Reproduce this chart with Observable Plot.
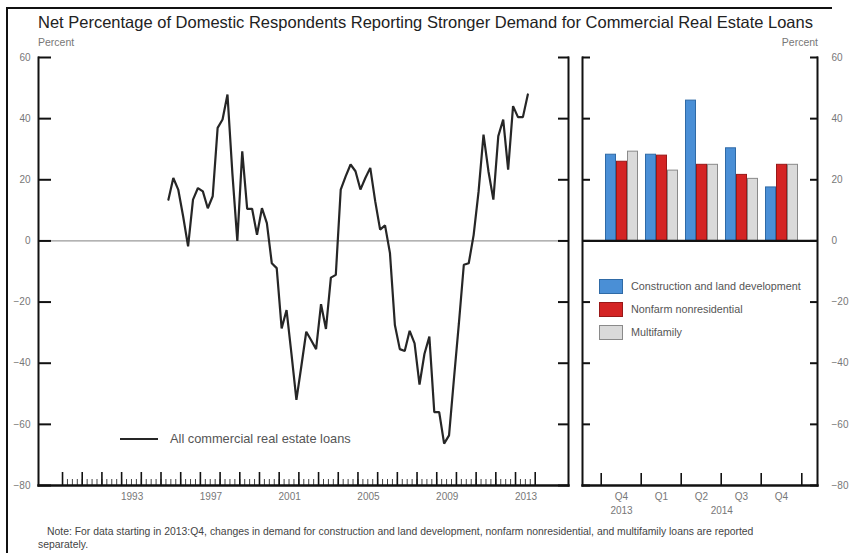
<!DOCTYPE html>
<html><head><meta charset="utf-8">
<script src="https://cdn.jsdelivr.net/npm/d3@7"></script>
<script src="https://cdn.jsdelivr.net/npm/@observablehq/plot@0.6"></script>
<style>
body{margin:0;background:#fff;}
#wrap{position:relative;width:849px;height:553px;overflow:hidden;font-family:"Liberation Sans",Arial,sans-serif;background:#fff;}
.abs{position:absolute;white-space:nowrap;}
.plot{position:absolute;top:0;}
</style></head><body><div id="wrap"></div>
<script>
// ---- data ----
const titleText = "Net Percentage of Domestic Respondents Reporting Stronger Demand for Commercial Real Estate Loans";
const noteLine1 = "Note: For data starting in 2013:Q4, changes in demand for construction and land development, nonfarm nonresidential, and multifamily loans are reported";
const noteLine2 = "separately.";
const lineLabel = "All commercial real estate loans";
const firstYear = 1995, firstQuarter = 2; // first observation 1995:Q2
const allCRE = [
  13.5, 20.6, 16.8,                 // 1995 Q2-Q4
  8, -1.8, 13.5, 17.3,              // 1996
  16.2, 10.7, 14.6, 37,             // 1997
  39.7, 47.9, 22, 0,                // 1998
  29.3, 10.5, 10.5, 2,              // 1999
  10.7, 5.8, -7.3, -8.9,            // 2000
  -28.6, -22.6, -37, -52,           // 2001
  -41, -29.7, -32.5, -35.4,         // 2002
  -20.7, -28.8, -12, -11.1,         // 2003
  16.8, 21.1, 25, 22.8,             // 2004
  16.8, 20.6, 23.9, 13,             // 2005
  3.7, 5.1, -4, -27.5,              // 2006
  -35.4, -36, -29.4, -33.5,         // 2007
  -47, -37, -31.3, -56,             // 2008
  -56, -66.3, -63.6, -45,           // 2009
  -27, -7.8, -7.3, 2,               // 2010
  16.2, 34.8, 22.8, 13.5,           // 2011
  34.3, 39.7, 23.3, 44.1,           // 2012
  40.5, 40.5, 47.9                  // 2013 Q1-Q3
];
const periods = ["2013Q4", "2014Q1", "2014Q2", "2014Q3", "2014Q4"];
const construction = [28.2, 28.2, 45.9, 30.3, 17.5];
const nonfarm      = [25.9, 27.9, 24.9, 21.6, 24.9];
const multifamily  = [29.2, 23.0, 24.9, 20.3, 24.9];
const seriesNames = ["Construction and land development", "Nonfarm nonresidential", "Multifamily"];
const seriesFill = ["#4a8fd6", "#d42424", "#dadada"];
const seriesStroke = ["#2f6aa6", "#991818", "#8a8a8a"];
const yTicks = [60, 40, 20, 0, -20, -40, -60, -80];
const yearTicks = d3.range(1990, 2015);          // 1990 ... 2014
const quarterTicks = d3.range(1990, 2014, 0.25); // minor ticks
const yearLabels = [1993, 1997, 2001, 2005, 2009, 2013];
const xDomain = [1988.78, 2015.69];
const yDomain = [-80, 60];

// ---- build ----
const wrap = document.getElementById("wrap");
const cre = allCRE.map((v, i) => {
  const q = firstQuarter - 1 + i;
  return {t: firstYear + q * 0.25 + 0.125, v};
});
const bars = periods.map((p, i) => ({period: p, c: construction[i], n: nonfarm[i], m: multifamily[i]}));

const baseStyle = {fontFamily: "Liberation Sans, Arial, sans-serif", fontSize: "10px", color: "#666", background: "transparent", overflow: "visible"};
const H = 520, MT = 57, MB = 35;

const left = Plot.plot({
  width: 575, height: H, marginLeft: 38, marginRight: 7, marginTop: MT, marginBottom: MB,
  style: baseStyle,
  x: {type: "linear", domain: xDomain},
  y: {domain: yDomain},
  marks: [
    Plot.ruleY([0], {stroke: "#9a9a9a", strokeWidth: 1.2}),
    Plot.axisY(yTicks, {anchor: "left", tickSize: 0, tickPadding: 8, label: null, fill: "#777"}),
    Plot.axisY(yTicks, {anchor: "left", tickSize: -13, tickFormat: () => "", label: null, strokeWidth: 2, stroke: "#111"}),
    Plot.axisY(yTicks, {anchor: "right", tickSize: -11, tickFormat: () => "", label: null, strokeWidth: 2, stroke: "#111"}),
    Plot.axisX(quarterTicks, {anchor: "bottom", tickSize: -6, tickFormat: () => "", label: null, strokeWidth: 1, stroke: "#444"}),
    Plot.axisX(yearTicks, {anchor: "bottom", tickSize: -13, tickFormat: () => "", label: null, strokeWidth: 1.6, stroke: "#111"}),
    Plot.axisX(yearLabels, {anchor: "bottom", tickSize: 0, tickPadding: 7, dx: 10.5, label: null, fill: "#777", tickFormat: d => String(d)}),
    Plot.frame({anchor: "left", stroke: "#111", strokeWidth: 2}),
    Plot.frame({anchor: "right", stroke: "#111", strokeWidth: 2}),
    Plot.frame({anchor: "bottom", stroke: "#111", strokeWidth: 2.4}),
    Plot.lineY(cre, {x: "t", y: "v", stroke: "#262626", strokeWidth: 2.2, strokeLinejoin: "miter"})
  ]
});
left.classList.add("plot");
left.style.left = "0px";
wrap.appendChild(left);

const right = Plot.plot({
  width: 274, height: H, marginLeft: 7, marginRight: 32, marginTop: MT, marginBottom: MB,
  style: baseStyle,
  x: {type: "band", domain: periods, paddingInner: 0, paddingOuter: 0.4, align: 0.53},
  y: {domain: yDomain},
  marks: [
    Plot.barY(bars, {x: "period", y: "c", fill: seriesFill[0], stroke: seriesStroke[0], strokeWidth: 1, insetLeft: 4.5, insetRight: 25.5}),
    Plot.barY(bars, {x: "period", y: "n", fill: seriesFill[1], stroke: seriesStroke[1], strokeWidth: 1, insetLeft: 15.5, insetRight: 14.5}),
    Plot.barY(bars, {x: "period", y: "m", fill: seriesFill[2], stroke: seriesStroke[2], strokeWidth: 1, insetLeft: 26.5, insetRight: 3.5}),
    Plot.ruleY([0], {stroke: "#111", strokeWidth: 2.2}),
    Plot.axisY(yTicks, {anchor: "right", tickSize: 0, tickPadding: 14, label: null, fill: "#777"}),
    Plot.axisY(yTicks, {anchor: "left", tickSize: -8, tickFormat: () => "", label: null, strokeWidth: 2, stroke: "#111"}),
    Plot.axisY(yTicks, {anchor: "right", tickSize: -8, tickFormat: () => "", label: null, strokeWidth: 2, stroke: "#111"}),
    Plot.axisX(periods, {anchor: "bottom", tickSize: -12, dx: -20.3, tickFormat: () => "", label: null, strokeWidth: 1.6, stroke: "#111"}),
    Plot.axisX(periods.slice(-1), {anchor: "bottom", tickSize: -12, dx: 20.3, tickFormat: () => "", label: null, strokeWidth: 1.6, stroke: "#111"}),
    Plot.axisX(periods, {anchor: "bottom", tickSize: 0, tickPadding: 7, label: null, fill: "#777", tickFormat: d => d.slice(4)}),
    Plot.axisX(periods.slice(0, 1), {anchor: "bottom", tickSize: 0, tickPadding: 21, label: null, fill: "#777", tickFormat: d => d.slice(0, 4)}),
    Plot.axisX(periods.slice(2, 3), {anchor: "bottom", tickSize: 0, tickPadding: 21, dx: 20.3, label: null, fill: "#777", tickFormat: d => d.slice(0, 4)}),
    Plot.frame({anchor: "left", stroke: "#111", strokeWidth: 2}),
    Plot.frame({anchor: "right", stroke: "#111", strokeWidth: 2}),
    Plot.frame({anchor: "bottom", stroke: "#111", strokeWidth: 2.4})
  ]
});
right.classList.add("plot");
right.style.left = "575px";
wrap.appendChild(right);

// ---- text and legends ----
function addText(txt, x, y, size, color, anchor) {
  const d = document.createElement("div");
  d.className = "abs";
  d.textContent = txt;
  d.style.fontSize = size + "px";
  d.style.color = color;
  d.style.lineHeight = "1";
  d.style.top = (y - size / 2) + "px";
  if (anchor === "end") { d.style.right = (849 - x) + "px"; } else { d.style.left = x + "px"; }
  wrap.appendChild(d);
  return d;
}
function addBox(x, y, w, h, css) {
  const d = document.createElement("div");
  d.className = "abs";
  Object.assign(d.style, {left: x + "px", top: y + "px", width: w + "px", height: h + "px"}, css);
  wrap.appendChild(d);
  return d;
}
// border of the screenshot
addBox(6, 7, 826, 2, {background: "#111"});
addBox(6, 7, 2, 546, {background: "#111"});

addText(titleText, 38, 22, 16.5, "#222");
addText("Percent", 38, 42, 10.5, "#777");
addText("Percent", 818, 42, 10.5, "#777", "end");

// line legend
addBox(120, 438, 38, 2.2, {background: "#262626"});
addText(lineLabel, 170, 439, 12.8, "#555");

// bar legend
seriesNames.forEach((name, i) => {
  const cy = 286 + i * 23;
  addBox(599, cy - 7, 22, 13, {background: seriesFill[i], border: "1px solid " + seriesStroke[i]});
  addText(name, 631, cy, 10.8, "#555");
});

addText(noteLine1, 47, 532, 10.4, "#444");
addText(noteLine2, 38, 545, 10.4, "#444");
</script>
</body></html>
